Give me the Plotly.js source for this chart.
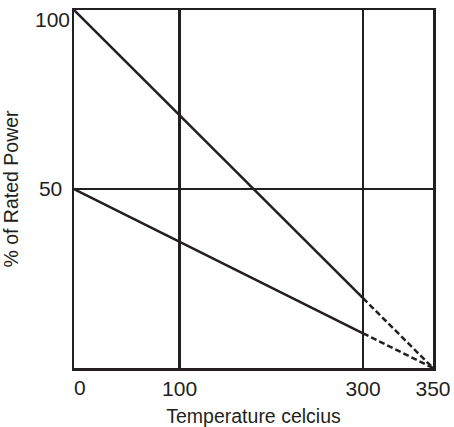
<!DOCTYPE html>
<html>
<head>
<meta charset="utf-8">
<script src="https://cdn.plot.ly/plotly-3.0.1.min.js"></script>
<style>html,body{margin:0;padding:0;background:#fff;}#chart{width:454px;height:427px;}</style>
</head>
<body>
<div id="chart"></div>
<script>
// Temperature tick labels (°C) as drawn on the reference
const tickTemps = [0, 100, 300, 350];
// Break point where the solid line turns dashed, and end point
const temps = [0, 300, 350];
// % of rated power along the upper and lower derating lines
const upperPower = [100, 19.5, 0];
const lowerPower = [50, 9.7, 0];
// y tick labels
const yTicks = [50];

// The reference's temperature axis is not evenly spaced: axis positions of the tick anchors
const axisAnchors = [0, 102.9, 281.8, 350];
function warp(t) {
  for (let i = 1; i < tickTemps.length; i++) {
    if (t <= tickTemps[i]) {
      const a = tickTemps[i - 1], b = tickTemps[i];
      return axisAnchors[i - 1] + (t - a) / (b - a) * (axisAnchors[i] - axisAnchors[i - 1]);
    }
  }
  return axisAnchors[axisAnchors.length - 1];
}

const ink = '#231f20';
const font = 'Liberation Sans, Arial, sans-serif';

function seg(series, i0, i1, dash) {
  return {
    x: temps.slice(i0, i1 + 1).map(warp),
    y: series.slice(i0, i1 + 1),
    mode: 'lines', type: 'scatter', hoverinfo: 'skip',
    line: {color: ink, width: 2.5, dash: dash}
  };
}

const data = [
  seg(upperPower, 0, 1, 'solid'),
  seg(upperPower, 1, 2, '6px,3px'),
  seg(lowerPower, 0, 1, 'solid'),
  seg(lowerPower, 1, 2, '6px,3px')
];

const xTickTemps = tickTemps.filter(t => t > 0);

const layout = {
  width: 454, height: 427,
  margin: {l: 74, r: 21, t: 10, b: 59},
  paper_bgcolor: '#fff', plot_bgcolor: '#fff',
  showlegend: false,
  font: {family: font, color: ink},
  xaxis: {
    range: [0, 350], autorange: false,
    tickvals: xTickTemps.map(warp), ticktext: xTickTemps.map(String),
    ticks: '', tickfont: {size: 21, color: ink},
    showgrid: true, gridcolor: ink, gridwidth: 2.5,
    showline: true, linecolor: ink, linewidth: 2.5, mirror: true,
    zeroline: false,
    title: {text: 'Temperature celcius', font: {size: 19.5, color: ink}, standoff: 14},
    automargin: false
  },
  yaxis: {
    range: [0, 100], autorange: false,
    tickvals: yTicks, ticktext: yTicks.map(String),
    ticks: '', tickfont: {size: 21, color: ink}, ticklabelstandoff: 5,
    showgrid: true, gridcolor: ink, gridwidth: 2.5,
    showline: true, linecolor: ink, linewidth: 2.5, mirror: true,
    zeroline: false,
    title: {text: '% of Rated Power', font: {size: 19.5, color: ink}, standoff: 22},
    automargin: false
  },
  annotations: [
    {text: String(tickTemps[0]), xref: 'x', x: warp(tickTemps[0]), yref: 'paper', y: 0,
     xanchor: 'left', yanchor: 'top', showarrow: false, font: {size: 21, color: ink}, yshift: -6, xshift: -2},
    {text: '100', xref: 'paper', x: 0, yref: 'y', y: 100,
     xanchor: 'right', yanchor: 'top', showarrow: false, font: {size: 21, color: ink}, xshift: -2, yshift: 4}
  ]
};

Plotly.newPlot('chart', data, layout, {displayModeBar: false, staticPlot: true});
</script>
</body>
</html>
